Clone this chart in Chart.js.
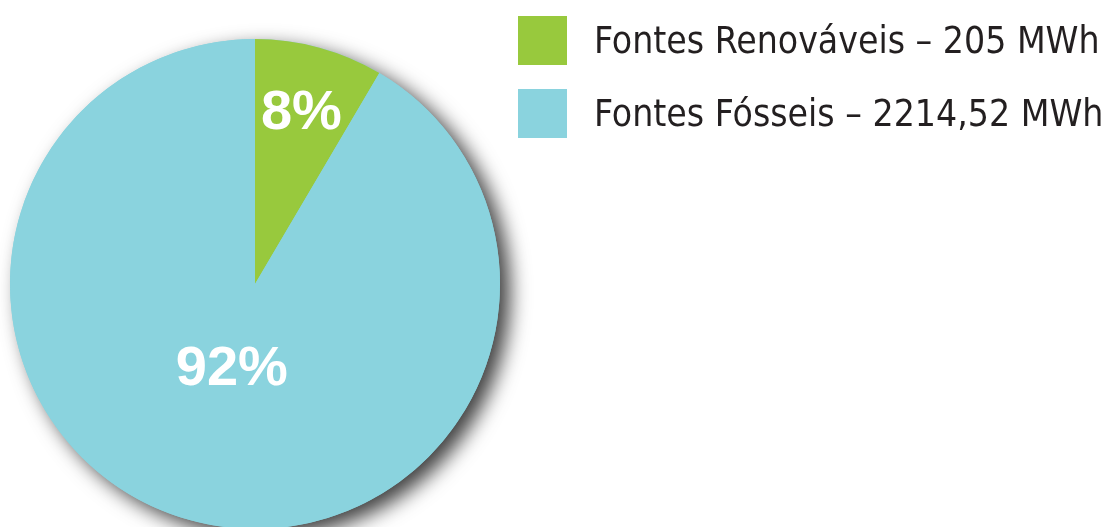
<!DOCTYPE html>
<html>
<head>
<meta charset="utf-8">
<script src="https://cdn.jsdelivr.net/npm/chart.js@4.4.1/dist/chart.umd.min.js"></script>
<style>
  html, body { margin: 0; padding: 0; background: #fff; overflow: hidden; }
  #wrap { position: relative; width: 1114px; height: 531px; }
</style>
</head>
<body>
<div id="wrap"><canvas id="chart"></canvas></div>
<script>
// Energy consumption by source (MWh)
const categories = ['Fontes Renováveis', 'Fontes Fósseis'];
const energyMWh = [205, 2214.52];
const energyText = ['205 MWh', '2214,52 MWh'];
const sliceColors = ['#98C93D', '#8AD3DE'];

// Soft drop shadow under the whole pie
const pieShadow = {
  id: 'pieShadow',
  beforeDatasetsDraw(chart) {
    const arc = chart.getDatasetMeta(0).data[0];
    if (!arc) return;
    const ctx = chart.ctx;
    ctx.save();
    ctx.shadowColor = 'rgba(0,0,0,0.75)';
    ctx.shadowBlur = 20;
    ctx.shadowOffsetX = 10;
    ctx.shadowOffsetY = 8;
    ctx.fillStyle = sliceColors[1];
    ctx.beginPath();
    ctx.arc(arc.x, arc.y, arc.outerRadius, 0, Math.PI * 2);
    ctx.fill();
    ctx.restore();
  }
};

// Percentage labels inside the slices
const sliceLabels = {
  id: 'sliceLabels',
  afterDatasetsDraw(chart) {
    const meta = chart.getDatasetMeta(0);
    const values = chart.data.datasets[0].data;
    const total = values.reduce((a, b) => a + b, 0);
    const radiusFrac = [0.72, 0.36];
    const ctx = chart.ctx;
    ctx.save();
    ctx.fillStyle = '#ffffff';
    ctx.font = 'bold 56px "Liberation Sans", Arial, sans-serif';
    ctx.textAlign = 'center';
    ctx.textBaseline = 'middle';
    meta.data.forEach((arc, i) => {
      const mid = (arc.startAngle + arc.endAngle) / 2;
      const r = arc.outerRadius * radiusFrac[i];
      const pct = Math.round(values[i] / total * 100) + '%';
      ctx.fillText(pct, arc.x + Math.cos(mid) * r, arc.y + Math.sin(mid) * r);
    });
    ctx.restore();
  }
};

// Legend: colour square followed by name and amount
const sideLegend = {
  id: 'sideLegend',
  afterDraw(chart) {
    const ctx = chart.ctx;
    ctx.save();
    ctx.font = '37px "DejaVu Sans Condensed", sans-serif';
    ctx.textBaseline = 'alphabetic';
    ctx.textAlign = 'left';
    categories.forEach((name, i) => {
      const top = 16 + i * 73;
      ctx.fillStyle = sliceColors[i];
      ctx.fillRect(518, top, 49, 49);
      ctx.fillStyle = '#231F20';
      ctx.fillText(name + ' \u2013 ' + energyText[i], 594, 53 + i * 73);
    });
    ctx.restore();
  }
};

new Chart(document.getElementById('chart'), {
  type: 'pie',
  data: {
    labels: categories,
    datasets: [{
      data: energyMWh,
      backgroundColor: sliceColors,
      borderWidth: 0
    }]
  },
  options: {
    responsive: true,
    maintainAspectRatio: false,
    animation: false,
    layout: { padding: { left: 10, top: 39, right: 614, bottom: 2 } },
    plugins: {
      legend: { display: false },
      tooltip: { enabled: false }
    }
  },
  plugins: [pieShadow, sliceLabels, sideLegend]
});
</script>
</body>
</html>
